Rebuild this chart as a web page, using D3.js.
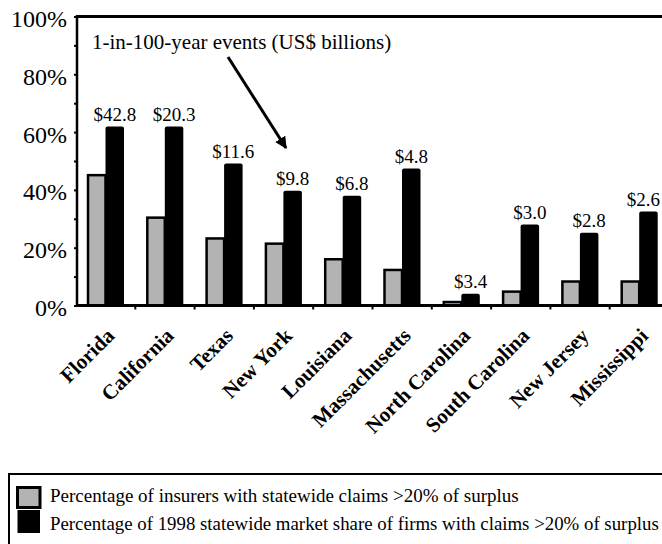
<!DOCTYPE html>
<html>
<head>
<meta charset="utf-8">
<script src="https://cdn.jsdelivr.net/npm/d3@7"></script>
<style>
  html, body { margin: 0; padding: 0; background: #fff; }
  svg { display: block; }
</style>
</head>
<body>
<svg id="chart" width="662" height="544"></svg>
<script>
const states = ["Florida", "California", "Texas", "New York", "Louisiana", "Massachusetts",
                "North Carolina", "South Carolina", "New Jersey", "Mississippi"];
const insurersPct = [45.1, 30.4, 23.2, 21.4, 16.0, 12.3, 1.2, 4.8, 8.3, 8.3];
const marketSharePct = [61.9, 61.9, 49.1, 39.7, 38.0, 47.4, 4.1, 28.0, 25.2, 32.5];
const eventLabels = ["$42.8", "$20.3", "$11.6", "$9.8", "$6.8", "$4.8", "$3.4", "$3.0", "$2.8", "$2.6"];
const yTicks = [0, 20, 40, 60, 80, 100];
const seriesNames = [
  "Percentage of insurers with statewide claims >20% of surplus",
  "Percentage of 1998 statewide market share of firms with claims >20% of surplus"
];
const annotationText = "1-in-100-year events (US$ billions)";

const FONT = "Liberation Serif";
const W = 662;
const svg = d3.select("#chart");
const plotLeft = 77, plotTop = 16.5, plotBottom = 305.5, bandW = 59.3;
const x = d3.scaleBand().domain(states).range([plotLeft - 1, plotLeft - 1 + bandW * states.length]).padding(0);
const x1 = d3.scaleBand().domain(["ins", "mkt"]).range([11, 48]).padding(0);
const y = d3.scaleLinear().domain([0, 100]).range([plotBottom, plotTop]);

// y axis small ticks
const yAxis = d3.axisLeft(y).tickValues(d3.range(0, 101, 10)).tickSize(3).tickFormat("");
svg.append("g").attr("transform", `translate(${plotLeft},0)`).call(yAxis)
  .call(g => g.select(".domain").remove())
  .call(g => g.selectAll("line").attr("stroke", "#000").attr("stroke-width", 2));

svg.append("g").selectAll("text").data(yTicks).join("text")
  .style("font-family", FONT)
  .attr("x", 67).attr("y", d => y(d) + 10.5)
  .attr("text-anchor", "end").attr("font-size", 24).text(d => d + "%");

// bars
const g = svg.append("g");
const groups = g.selectAll("g.grp").data(states).join("g")
  .attr("class", "grp").attr("transform", d => `translate(${x(d)},0)`);
groups.append("rect")
  .attr("x", x1("ins") + 1).attr("width", x1.bandwidth() - 1)
  .attr("y", (d, i) => y(insurersPct[i]))
  .attr("height", (d, i) => plotBottom - y(insurersPct[i]))
  .attr("fill", "#b3b3b3").attr("stroke", "#000").attr("stroke-width", 2.5);
groups.append("rect")
  .attr("x", x1("mkt")).attr("width", x1.bandwidth())
  .attr("y", (d, i) => y(marketSharePct[i]))
  .attr("height", (d, i) => plotBottom - y(marketSharePct[i]))
  .attr("rx", 2)
  .attr("fill", "#000");
groups.append("text")
  .style("font-family", FONT)
  .attr("x", x1("mkt") + x1.bandwidth() / 2)
  .attr("y", (d, i) => y(marketSharePct[i]) - 6)
  .attr("text-anchor", "middle").attr("font-size", 19)
  .text((d, i) => eventLabels[i])
  .each(function(d) {
    // keep the label inside the picture
    const w = this.getComputedTextLength();
    const cx = x(d) + x1("mkt") + x1.bandwidth() / 2;
    if (cx + w / 2 > W - 2) d3.select(this).attr("x", (W - 2 - w / 2) - x(d));
  });

// frame lines
svg.append("line").attr("x1", plotLeft).attr("x2", W).attr("y1", plotTop).attr("y2", plotTop)
  .attr("stroke", "#000").attr("stroke-width", 3);
svg.append("line").attr("x1", plotLeft).attr("x2", plotLeft).attr("y1", plotTop - 1.5).attr("y2", plotBottom + 1.5)
  .attr("stroke", "#000").attr("stroke-width", 2.5);

// x axis
svg.append("line").attr("x1", plotLeft).attr("x2", W).attr("y1", plotBottom).attr("y2", plotBottom)
  .attr("stroke", "#000").attr("stroke-width", 3);
svg.append("g").selectAll("line").data(states.slice(1)).join("line")
  .attr("x1", d => x(d)).attr("x2", d => x(d))
  .attr("y1", plotBottom).attr("y2", plotBottom + 4)
  .attr("stroke", "#000").attr("stroke-width", 2);

svg.append("g").selectAll("text").data(states).join("text")
  .style("font-family", FONT)
  .attr("transform", d => `translate(${x(d) + x.bandwidth() / 2 + 10},${337}) rotate(-45)`)
  .attr("text-anchor", "end").attr("font-size", 21).attr("font-weight", "bold")
  .text(d => d);

// annotation
svg.append("defs").append("marker")
  .attr("id", "arr").attr("viewBox", "0 0 10 10").attr("refX", 9).attr("refY", 5)
  .attr("markerWidth", 4).attr("markerHeight", 4).attr("orient", "auto")
  .append("path").attr("d", "M0,0 L10,5 L0,10 z").attr("fill", "#000");
svg.append("text").style("font-family", FONT)
  .attr("x", 92).attr("y", 49).attr("font-size", 21).text(annotationText);
svg.append("line").attr("x1", 228).attr("y1", 57).attr("x2", 286).attr("y2", 148)
  .attr("stroke", "#000").attr("stroke-width", 3).attr("marker-end", "url(#arr)");

// legend
const lg = svg.append("g");
lg.append("rect").attr("x", 9).attr("y", 474).attr("width", 700).attr("height", 120)
  .attr("fill", "none").attr("stroke", "#000").attr("stroke-width", 2);
const legFill = ["#b3b3b3", "#000"];
lg.selectAll("rect.sw").data(seriesNames).join("rect").attr("class", "sw")
  .attr("x", 17.5).attr("width", 22.5)
  .attr("y", (d, i) => i ? 510 : 487.5).attr("height", (d, i) => i ? 23 : 20)
  .attr("fill", (d, i) => legFill[i]).attr("stroke", "#000").attr("stroke-width", (d, i) => i ? 0 : 3);
lg.selectAll("text.lt").data(seriesNames).join("text").attr("class", "lt")
  .style("font-family", FONT)
  .attr("x", 50).attr("y", (d, i) => 502 + i * 28)
  .attr("font-size", 19).text(d => d)
  .each(function() {
    const w = this.getComputedTextLength();
    if (50 + w > W - 3) d3.select(this).attr("font-size", 19 * (W - 3 - 50) / w);
  });
</script>
</body>
</html>
